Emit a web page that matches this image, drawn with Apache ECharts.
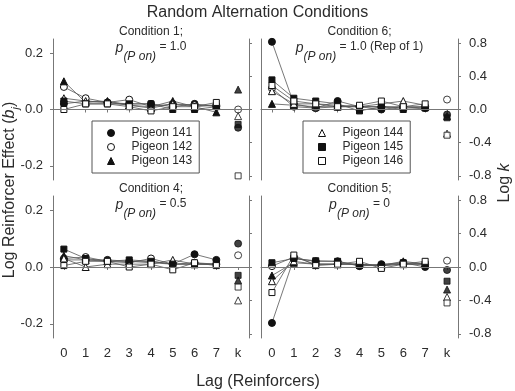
<!DOCTYPE html>
<html>
<head>
<meta charset="utf-8">
<script src="https://cdn.jsdelivr.net/npm/echarts@6/dist/echarts.min.js"></script>
<style>
  html, body { margin: 0; padding: 0; background: #fff; }
  #chart { width: 515px; height: 391px; }
</style>
</head>
<body>
<div id="chart"></div>
<script>
// lag categories (k = log k, plotted on the right axis)
const lagLabels = ['0', '1', '2', '3', '4', '5', '6', '7', 'k']
const pigeons = ['Pigeon 141', 'Pigeon 142', 'Pigeon 143', 'Pigeon 144', 'Pigeon 145', 'Pigeon 146']
const leftTicks = [-0.2, 0, 0.2]
const rightTicks = [-0.8, -0.4, 0, 0.4, 0.8]

// Condition 1; p(P on) = 1.0  -- one row per pigeon, lags 0..7
const cond1Lag = [
  [0.02, 0.03, 0.025, 0.02, 0.02, 0.01, 0.02, 0.01],
  [0.08, 0.04, 0.025, 0.035, 0.01, 0.02, 0.015, 0.015],
  [0.10, 0.025, 0.03, 0.015, 0.01, 0.03, 0.01, -0.01],
  [0.04, 0.03, 0.025, 0.015, 0.005, 0.02, 0.01, 0.015],
  [0.03, 0.02, 0.02, 0.02, 0.02, 0.0, 0.0, 0.01],
  [0.0, 0.02, 0.02, 0.01, -0.005, 0.01, 0.01, 0.025]
]
const cond1K = [-0.22, 0.0, 0.24, -0.08, -0.18, -0.80]

// Condition 6; p(P on) = 1.0 (Rep of 1)
const cond6Lag = [
  [0.24, 0.02, 0.005, 0.03, 0.01, 0.0, 0.01, 0.005],
  [0.075, 0.01, 0.005, 0.01, 0.01, 0.01, 0.005, 0.01],
  [0.02, 0.015, 0.01, 0.01, 0.01, 0.01, 0.01, 0.01],
  [0.065, 0.02, 0.02, 0.015, 0.01, 0.02, 0.03, 0.015],
  [0.105, 0.04, 0.03, 0.02, -0.005, 0.01, 0.0, 0.005],
  [0.085, 0.03, 0.02, 0.01, 0.015, 0.03, 0.01, 0.02]
]
const cond6K = [-0.06, 0.12, -0.08, -0.29, -0.10, -0.31]

// Condition 4; p(P on) = 0.5
const cond4Lag = [
  [0.025, 0.025, 0.025, 0.02, 0.02, 0.01, 0.045, 0.025],
  [0.03, 0.035, 0.02, 0.015, 0.03, 0.01, 0.015, 0.01],
  [0.04, 0.025, 0.02, 0.02, 0.015, 0.01, 0.01, 0.01],
  [0.03, 0.0, 0.01, 0.01, 0.01, 0.025, 0.01, 0.01],
  [0.063, 0.03, 0.02, 0.025, 0.02, 0.01, 0.01, 0.01],
  [0.005, 0.02, 0.02, 0.0, 0.01, -0.01, 0.015, 0.005]
]
const cond4K = [0.28, 0.14, -0.16, -0.40, -0.10, -0.24]

// Condition 5; p(P on) = 0
const cond5Lag = [
  [-0.197, 0.03, 0.02, 0.02, 0.003, 0.01, 0.015, 0.0],
  [0.003, 0.035, 0.01, 0.01, 0.01, 0.005, 0.01, 0.01],
  [-0.03, 0.015, 0.01, 0.01, 0.01, 0.005, 0.02, 0.01],
  [-0.05, 0.02, 0.01, 0.01, 0.01, 0.005, 0.01, 0.01],
  [0.015, 0.03, 0.022, 0.02, 0.005, 0.005, 0.015, 0.01],
  [-0.09, 0.042, 0.005, 0.01, 0.02, -0.005, 0.01, 0.02]
]
const cond5K = [-0.036, 0.076, -0.27, -0.36, -0.17, -0.43]

const textColor = '#2b2b2b'
const axisColor = '#777'
const font = 'Liberation Sans, Arial, sans-serif'

// marker look per pigeon
const marks = [
  { symbol: 'circle', fill: '#111', size: 7 },
  { symbol: 'circle', fill: '#fff', size: 7 },
  { symbol: 'triangle', fill: '#111', size: 7 },
  { symbol: 'triangle', fill: '#fff', size: 7 },
  { symbol: 'rect', fill: '#111', size: 6 },
  { symbol: 'rect', fill: '#fff', size: 6 }
]

const panels = [
  { title: 'Condition 1;', value: ' = 1.0', lag: cond1Lag, k: cond1K, grid: { left: 53, top: 39, width: 196, height: 141 }, isLeft: true, isBottom: false },
  { title: 'Condition 6;', value: ' = 1.0 (Rep of 1)', lag: cond6Lag, k: cond6K, grid: { left: 261, top: 39, width: 197, height: 141 }, isLeft: false, isBottom: false },
  { title: 'Condition 4;', value: ' = 0.5', lag: cond4Lag, k: cond4K, grid: { left: 53, top: 196, width: 196, height: 142 }, isLeft: true, isBottom: true },
  { title: 'Condition 5;', value: ' = 0', lag: cond5Lag, k: cond5K, grid: { left: 261, top: 196, width: 197, height: 142 }, isLeft: false, isBottom: true }
]

const markStyle = i => ({
  color: marks[i].fill,
  borderColor: '#111',
  borderWidth: 1
})

const grids = []
const xAxes = []
const yAxes = []
const series = []
const graphics = []

panels.forEach((p, gi) => {
  grids.push(p.grid)
  xAxes.push({
    gridIndex: gi,
    type: 'category',
    data: lagLabels,
    boundaryGap: true,
    axisLine: { lineStyle: { color: axisColor } },
    axisTick: { show: true, alignWithLabel: true, length: 3, lineStyle: { color: axisColor } },
    axisLabel: { show: p.isBottom, fontSize: 13, margin: 9, color: textColor, fontFamily: font },
    splitLine: { show: false }
  })
  yAxes.push({
    gridIndex: gi,
    type: 'value',
    position: 'left',
    min: -0.25,
    max: 0.25,
    axisLine: { show: true, lineStyle: { color: axisColor } },
    axisTick: { show: p.isLeft, length: 3, customValues: leftTicks, lineStyle: { color: axisColor } },
    axisLabel: {
      show: p.isLeft, customValues: leftTicks, margin: 10, fontSize: 13,
      color: textColor, fontFamily: font, formatter: v => v.toFixed(1)
    },
    splitLine: { show: false }
  })
  yAxes.push({
    gridIndex: gi,
    type: 'value',
    position: 'right',
    min: -0.85,
    max: 0.85,
    axisLine: { show: true, lineStyle: { color: axisColor } },
    axisTick: { show: true, length: 3, customValues: rightTicks, lineStyle: { color: axisColor } },
    axisLabel: {
      show: !p.isLeft, customValues: rightTicks, margin: 11, fontSize: 13,
      color: textColor, fontFamily: font, formatter: v => v.toFixed(1)
    },
    splitLine: { show: false }
  })

  p.lag.forEach((vals, i) => {
    const s = {
      name: pigeons[i],
      type: 'line',
      xAxisIndex: gi,
      yAxisIndex: gi * 2,
      data: vals,
      symbol: marks[i].symbol,
      symbolSize: marks[i].size,
      showAllSymbol: true,
      lineStyle: { color: '#555', width: 0.8 },
      itemStyle: markStyle(i),
      z: 3
    }
    if (i === 0) {
      s.markLine = {
        silent: true,
        symbol: 'none',
        label: { show: false },
        lineStyle: { color: axisColor, width: 1, type: 'solid' },
        data: [{ yAxis: 0 }]
      }
    }
    series.push(s)
  })
  p.k.forEach((v, i) => {
    series.push({
      name: pigeons[i],
      type: 'scatter',
      xAxisIndex: gi,
      yAxisIndex: gi * 2 + 1,
      data: [[8, v]],
      symbol: marks[i].symbol,
      symbolSize: marks[i].size,
      itemStyle: markStyle(i),
      z: 3
    })
  })

  const cx = p.grid.left + p.grid.width / 2
  const ty = p.grid.top - 7
  graphics.push({
    type: 'text', x: cx, y: ty,
    style: { text: p.title, fill: textColor, fontSize: 12, fontFamily: font, textAlign: 'center', textVerticalAlign: 'middle' }
  })
  graphics.push({
    type: 'text', x: cx, y: ty + 20,
    style: {
      text: '{p|p}{s|(P on)}{n|' + p.value + '}',
      fill: textColor, fontSize: 12, fontFamily: font, textAlign: 'center', textVerticalAlign: 'middle',
      rich: {
        p: { fontSize: 14, fontStyle: 'italic', fontFamily: font, fill: textColor, verticalAlign: 'top', lineHeight: 22 },
        s: { fontSize: 12, fontStyle: 'italic', fontFamily: font, fill: textColor, verticalAlign: 'bottom', lineHeight: 22 },
        n: { fontSize: 12, fontFamily: font, fill: textColor, verticalAlign: 'top', lineHeight: 22 }
      }
    }
  })
})

const legendBase = {
  orient: 'vertical',
  top: 121,
  padding: [6, 7, 6, 15],
  itemWidth: 7,
  itemHeight: 7,
  itemGap: 2,
  borderColor: '#555',
  borderWidth: 1,
  selectedMode: false,
  textStyle: { fontSize: 12, color: textColor, fontFamily: font, padding: [0, 0, 0, 12] }
}
const legendData = idx => idx.map(i => ({
  name: pigeons[i],
  icon: marks[i].symbol,
  itemStyle: markStyle(i)
}))

// axis titles
graphics.push({
  type: 'text', x: 10, y: 190, rotation: Math.PI / 2,
  style: {
    text: 'Log Reinforcer Effect ({b|b}{j|j})',
    fill: textColor, fontSize: 16, fontFamily: font, textAlign: 'center', textVerticalAlign: 'middle',
    rich: {
      b: { fontSize: 16, fontStyle: 'italic', fontFamily: font, fill: textColor },
      j: { fontSize: 11, fontStyle: 'italic', fontFamily: font, fill: textColor, verticalAlign: 'bottom', lineHeight: 22 }
    }
  }
})
graphics.push({
  type: 'text', x: 505, y: 183, rotation: Math.PI / 2,
  style: {
    text: 'Log {k|k}',
    fill: textColor, fontSize: 16, fontFamily: font, textAlign: 'center', textVerticalAlign: 'middle',
    rich: { k: { fontSize: 16, fontStyle: 'italic', fontFamily: font, fill: textColor } }
  }
})
graphics.push({
  type: 'text', x: 258, y: 382,
  style: { text: 'Lag (Reinforcers)', fill: textColor, fontSize: 16, fontFamily: font, textAlign: 'center', textVerticalAlign: 'middle' }
})

const chart = echarts.init(document.getElementById('chart'))
chart.setOption({
  animation: false,
  backgroundColor: '#fff',
  title: {
    text: 'Random Alternation Conditions',
    left: 'center',
    top: 0,
    textStyle: { fontSize: 16, fontWeight: 'normal', color: textColor, fontFamily: font }
  },
  legend: [
    Object.assign({}, legendBase, { left: 92, data: legendData([0, 1, 2]) }),
    Object.assign({}, legendBase, { left: 303, data: legendData([3, 4, 5]) })
  ],
  grid: grids,
  xAxis: xAxes,
  yAxis: yAxes,
  series: series,
  graphic: graphics
})
</script>
</body>
</html>
